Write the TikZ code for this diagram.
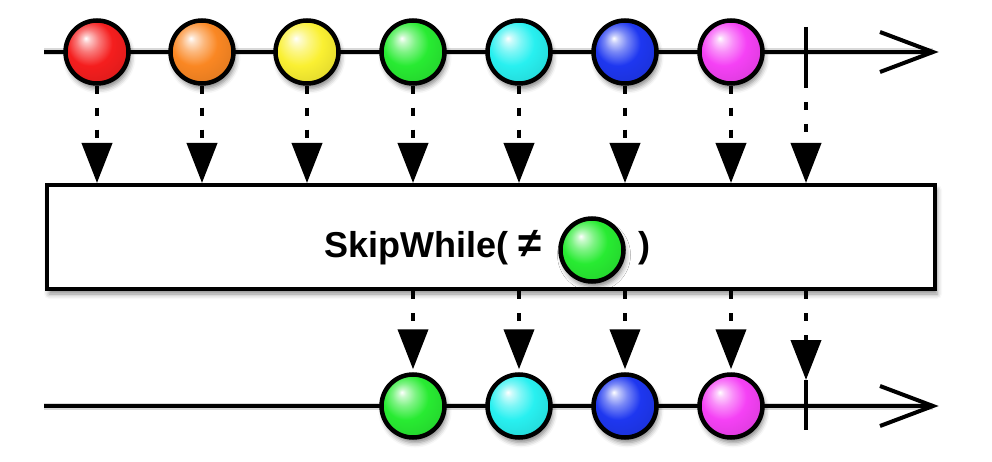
\documentclass[tikz,border=0pt]{standalone}
\usepackage{fontspec}
\setmainfont{Liberation Sans}
\usetikzlibrary{arrows.meta,calc,shadows.blur}
\definecolor{cRed}{RGB}{245,30,30}
\definecolor{cOrange}{RGB}{250,135,35}
\definecolor{cYellow}{RGB}{250,240,50}
\definecolor{cGreen}{RGB}{40,235,50}
\definecolor{cCyan}{RGB}{40,240,240}
\definecolor{cBlue}{RGB}{30,55,240}
\definecolor{cMag}{RGB}{245,65,245}
\colorlet{mcol}{red}
\pgfdeclareradialshading[mcol]{marble}{\pgfqpoint{-9bp}{11bp}}{%
 color(0bp)=(white); color(3bp)=(mcol!25!white); color(9bp)=(mcol!60!white); color(18bp)=(mcol);
 color(29bp)=(mcol!92!black); color(40bp)=(mcol!62!black); color(50bp)=(mcol!62!black)}
\tikzset{
 lw/.style={line width=4pt},
 marble/.style={circle, draw=black, line width=4.5pt, minimum size=63pt, inner sep=0pt,
   /utils/exec={\colorlet{mcol}{#1}}, shading=marble,
   blur shadow={shadow xshift=2pt, shadow yshift=-5pt, shadow opacity=50, shadow blur radius=5pt}},
 dotarrow/.style={line width=4pt, dash pattern=on 8pt off 14pt, -{Triangle[length=40pt,width=30pt]}},
 shline/.style={line width=7pt, draw=black, opacity=0.15, yshift=-5pt},
 lbl/.style={font=\bfseries\fontsize{36}{40}\selectfont, inner sep=0pt, anchor=base west}
}
\begin{document}
\begin{tikzpicture}[x=1pt,y=-1pt]
\useasboundingbox (0,0) rectangle (992,462);
% timelines
\coordinate (s1) at (44,52);
\coordinate (e1) at (933,52);
\coordinate (s2) at (44,406);
\coordinate (e2) at (933,406);
\draw[shline] (s1) -- (e1);
\draw[shline] (s2) -- (e2);
\draw[lw] (s1) -- (e1);
\draw[lw] ($(e1)+(-53,-20)$) -- (e1) -- ($(e1)+(-53,20)$);
\draw[lw] (s2) -- (e2);
\draw[lw] ($(e2)+(-53,-20)$) -- (e2) -- ($(e2)+(-53,20)$);
% completion ticks
\coordinate (t1) at (806,52);
\coordinate (t1a) at (806,27);
\coordinate (t1b) at (806,80);
\draw[lw] (t1a) -- (t1b);
\coordinate (t2) at (806,406);
\coordinate (t2a) at (806,380);
\coordinate (t2b) at (806,430);
\draw[lw] (t2a) -- (t2b);
% top marbles
\node[marble=cRed] (m1) at (97,52) {};
\node[marble=cOrange] (m2) at (202,52) {};
\node[marble=cYellow] (m3) at (307,52) {};
\node[marble=cGreen] (m4) at (413,52) {};
\node[marble=cCyan] (m5) at (519,52) {};
\node[marble=cBlue] (m6) at (625,52) {};
\node[marble=cMag] (m7) at (731,52) {};
% operator box
\node[draw=black, line width=4pt, fill=white, minimum width=888pt, minimum height=104pt,
      inner sep=0pt, blur shadow={shadow xshift=2pt, shadow yshift=-5pt, shadow opacity=45, shadow blur radius=5pt}] (box) at (491,237) {};
\node[lbl] (txt) at (324,257) {SkipWhile(};
\node[lbl, font=\bfseries\fontsize{42}{46}\selectfont, anchor=base] (ne) at (530,258) {≠};
\node[marble=cGreen] (gm) at (592,250) {};
\node[lbl] (rp) at (638,257) {)};
% bottom marbles
\node[marble=cGreen] (b4) at (413,406) {};
\node[marble=cCyan] (b5) at (519,406) {};
\node[marble=cBlue] (b6) at (625,406) {};
\node[marble=cMag] (b7) at (731,406) {};
% top arrows
\foreach \m in {m1,m2,m3,m4,m5,m6,m7}
  \draw[dotarrow] (\m.south) -- (\m.south |- box.north);
\draw[dotarrow] (t1b) -- (t1b |- box.north);
% bottom arrows
\foreach \m in {b4,b5,b6,b7}
  \draw[dotarrow, shorten >=3pt] (\m.north |- box.south) -- (\m.north);
\draw[dotarrow] (t2a |- box.south) -- (t2a);
\end{tikzpicture}
\end{document}
